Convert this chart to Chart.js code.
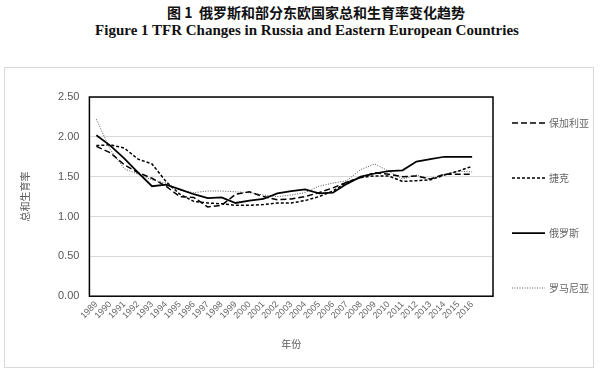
<!DOCTYPE html>
<html>
<head>
<meta charset="utf-8">
<script src="https://cdn.jsdelivr.net/npm/chart.js@4"></script>
<style>
  html, body { margin: 0; padding: 0; background: #fff; }
  body { width: 600px; height: 371px; position: relative; overflow: hidden; }
  .t1 { position: absolute; top: 2px; left: 16px; width: 600px; text-align: center;
        font: bold 14px "Noto Sans CJK SC", sans-serif; color: #111; }
  .t2 { position: absolute; top: 22px; left: 7px; width: 600px; text-align: center;
        font: bold 15px "Liberation Serif", serif; color: #111; }
  .frame { position: absolute; left: 4px; top: 67px; width: 588px; height: 299px;
           border: 1px solid #d9d9d9; }
  canvas { display: block; }
</style>
</head>
<body>
<div class="t1">图 1&nbsp;&nbsp;俄罗斯和部分东欧国家总和生育率变化趋势</div>
<div class="t2">Figure 1 TFR Changes in Russia and Eastern European Countries</div>
<div class="frame"><canvas id="tfrChart" width="588" height="299"></canvas></div>
<script>
// last empty slot leaves room on the right like the original
const years = ['1989', '1990', '1991', '1992', '1993', '1994', '1995', '1996', '1997', '1998',
  '1999', '2000', '2001', '2002', '2003', '2004', '2005', '2006', '2007', '2008',
  '2009', '2010', '2011', '2012', '2013', '2014', '2015', '2016', ''];

const bulgaria = [1.88, 1.80, 1.65, 1.55, 1.48, 1.38, 1.25, 1.24, 1.12, 1.14,
  1.28, 1.31, 1.25, 1.21, 1.22, 1.25, 1.30, 1.36, 1.43, 1.49,
  1.55, 1.53, 1.50, 1.51, 1.47, 1.53, 1.53, 1.53];
const czech = [1.89, 1.90, 1.86, 1.72, 1.66, 1.44, 1.28, 1.19, 1.17, 1.16,
  1.14, 1.14, 1.15, 1.17, 1.17, 1.20, 1.25, 1.32, 1.43, 1.49,
  1.51, 1.51, 1.44, 1.45, 1.46, 1.52, 1.57, 1.63];
const russia = [2.02, 1.89, 1.73, 1.55, 1.38, 1.40, 1.34, 1.28, 1.23, 1.24,
  1.17, 1.20, 1.22, 1.29, 1.32, 1.34, 1.29, 1.30, 1.41, 1.50,
  1.54, 1.57, 1.58, 1.69, 1.72, 1.75, 1.75, 1.75];
const romania = [2.22, 1.84, 1.60, 1.53, 1.46, 1.42, 1.33, 1.30, 1.32, 1.32,
  1.31, 1.30, 1.27, 1.25, 1.27, 1.30, 1.38, 1.42, 1.45, 1.59,
  1.66, 1.57, 1.47, 1.52, 1.47, 1.53, 1.57, 1.56];

const grey = '#595959';
const labelFont = '"Noto Sans CJK SC", "Liberation Sans", sans-serif';

// black box round the plot area
const plotBox = {
  id: 'plotBox',
  afterDatasetsDraw(chart) {
    const a = chart.chartArea, ctx = chart.ctx;
    ctx.save();
    ctx.strokeStyle = '#000';
    ctx.lineWidth = 1.5;
    ctx.strokeRect(a.left, a.top, a.right - a.left, a.bottom - a.top);
    ctx.restore();
  }
};

// excel-style legend on the right, one item per dataset, widely spaced
const sideLegend = {
  id: 'sideLegend',
  afterDraw(chart) {
    const a = chart.chartArea, ctx = chart.ctx;
    ctx.save();
    chart.data.datasets.forEach((ds, i) => {
      const y = a.top + 26 + i * 55;
      const x = a.right + 19;
      ctx.beginPath();
      ctx.setLineDash(ds.borderDash || []);
      ctx.strokeStyle = ds.borderColor;
      ctx.lineWidth = ds.borderWidth;
      ctx.moveTo(x, y);
      ctx.lineTo(x + 33, y);
      ctx.stroke();
      ctx.setLineDash([]);
      ctx.fillStyle = '#666';
      ctx.font = '10px ' + labelFont;
      ctx.textBaseline = 'middle';
      ctx.fillText(ds.label, x + 37, y);
    });
    ctx.restore();
  }
};

new Chart(document.getElementById('tfrChart'), {
  type: 'line',
  data: {
    labels: years,
    datasets: [{
      label: '保加利亚',
      data: bulgaria,
      borderColor: '#000',
      borderWidth: 1.5,
      borderDash: [6, 3]
    }, {
      label: '捷克',
      data: czech,
      borderColor: '#000',
      borderWidth: 1.5,
      borderDash: [3, 2]
    }, {
      label: '俄罗斯',
      data: russia,
      borderColor: '#000',
      borderWidth: 1.75
    }, {
      label: '罗马尼亚',
      data: romania,
      borderColor: '#555',
      borderWidth: 1,
      borderDash: [1, 1.5]
    }]
  },
  options: {
    responsive: false,
    animation: false,
    elements: { point: { radius: 0 }, line: { tension: 0, fill: false } },
    layout: { padding: { left: 8, right: 100, top: 29, bottom: 17 } },
    plugins: {
      legend: { display: false },
      tooltip: { enabled: false }
    },
    scales: {
      x: {
        offset: true,
        grid: { display: false, drawTicks: false },
        border: { display: false },
        ticks: {
          color: '#666',
          font: { size: 9, family: 'Liberation Sans' },
          minRotation: 45,
          maxRotation: 45,
          autoSkip: false,
          padding: 3
        },
        title: {
          display: true,
          text: '年份',
          color: grey,
          font: { size: 10, family: labelFont },
          padding: { top: 14, bottom: 0 }
        }
      },
      y: {
        min: 0,
        max: 2.5,
        grid: { color: '#d9d9d9', drawTicks: false },
        border: { display: false },
        ticks: {
          stepSize: 0.5,
          color: grey,
          font: { size: 11, family: 'Liberation Sans' },
          padding: 10,
          callback: v => v.toFixed(2)
        },
        title: {
          display: true,
          text: '总和生育率',
          color: grey,
          font: { size: 10, family: labelFont },
          padding: { top: 6, bottom: 17 }
        }
      }
    }
  },
  plugins: [plotBox, sideLegend]
});
</script>
</body>
</html>
